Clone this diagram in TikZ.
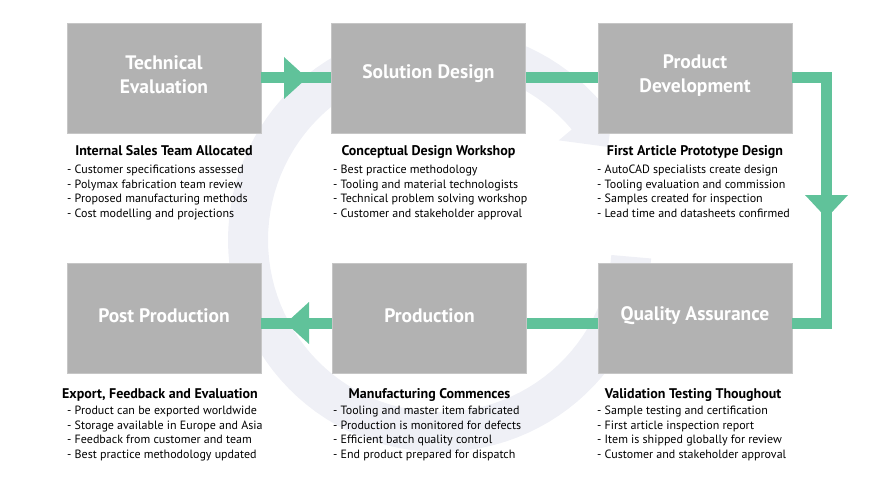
\documentclass[tikz,border=0pt]{standalone}
\usepackage{fontspec}
\setmainfont{PT Sans}
\definecolor{boxgray}{HTML}{B2B2B2}
\definecolor{boxedge}{HTML}{C6C6C6}
\definecolor{flow}{HTML}{60C29A}
\definecolor{ringc}{HTML}{EFF0F6}
\begin{document}
\begin{tikzpicture}[x=1pt,y=-1pt,
  stage/.style={draw=boxedge, line width=0.7pt, fill=boxgray, minimum width=194pt, minimum height=110pt, inner sep=0pt},
  title/.style={text=white, font=\bfseries\fontsize{19.5}{24}\selectfont, align=center, inner sep=0pt},
  head/.style={font=\bfseries\fontsize{14}{16}\selectfont, anchor=base, inner sep=0pt},
  bul/.style={font=\fontsize{12}{14}\selectfont, anchor=base west, inner sep=0pt},
  conn/.style={draw=flow, line width=11pt},
  tipf/.style={fill=flow}]
\useasboundingbox (0,0) rectangle (874,489);
% background circular arrow
\fill[ringc] plot[domain=5:320,samples=100] ({440+212*cos(\x)},{240+212*sin(\x)})
  -- ({440+229*cos(320)},{240+229*sin(320)})
  -- ({440+192*cos(331)},{240+192*sin(331)})
  -- ({440+155*cos(320)},{240+155*sin(320)})
  -- plot[domain=320:5,samples=100] ({440+172*cos(\x)},{240+172*sin(\x)}) -- cycle;
% boxes
\node[stage] (te) at (164,78) {};
\node[stage] (sd) at (428.5,78) {};
\node[stage] (pd) at (695,78) {};
\node[stage] (pp) at (164,318) {};
\node[stage] (pr) at (429.5,318) {};
\node[stage] (qa) at (695,318) {};
% connectors
\draw[conn] (te.east) -- (sd.west);
\fill[tipf] (284,57) -- (307,78) -- (284,99) -- cycle;
\draw[conn] (sd.east) -- (pd.west);
\draw[conn] (pd.east) -- ++(34,0) |- ([yshift=-5pt]qa.east);
\fill[tipf] (805,195) -- (848,195) -- (826.5,218) -- cycle;
\draw[conn] ([yshift=-5pt]qa.west) -- ([yshift=-5pt]pr.east);
\draw[conn] ([yshift=-5pt]pr.west) -- ([yshift=-5pt]pp.east);
\fill[tipf] (309,302) -- (286,323) -- (309,344) -- cycle;
% titles
\node[title] (te-t) at (164,75) {Technical\\Evaluation};
\node[title] (sd-t) at (428.5,74) {Solution Design};
\node[title] (pd-t) at (695,76) {Product\\Development};
\node[title] (pp-t) at (164,316) {Post Production};
\node[title] (pr-t) at (429.5,316) {Production};
\node[title] (qa-t) at (695,316) {Quality Assurance};
% headings
\node[head] (te-h) at (164,156) {Internal Sales Team Allocated};
\node[head] (sd-h) at (428.5,156) {Conceptual Design Workshop};
\node[head] (pd-h) at (695,156) {First Article Prototype Design};
\node[head] (pp-h) at (160,398) {Export, Feedback and Evaluation};
\node[head] (pr-h) at (429.5,398) {Manufacturing Commences};
\node[head] (qa-h) at (693,398) {Validation Testing Thoughout};
% bullets
\foreach \t [count=\i from 0] in {- Customer specifications assessed,- Polymax fabrication team review,- Proposed manufacturing methods,- Cost modelling and projections}
  \node[bul] (te-b\i) at (67,{173.5+14.5*\i}) {\t};
\foreach \t [count=\i from 0] in {- Best practice methodology,- Tooling and material technologists,- Technical problem solving workshop,- Customer and stakeholder approval}
  \node[bul] (sd-b\i) at (333,{173.5+14.5*\i}) {\t};
\foreach \t [count=\i from 0] in {- AutoCAD specialists create design,- Tooling evaluation and commission,- Samples created for inspection,- Lead time and datasheets confirmed}
  \node[bul] (pd-b\i) at (597,{173.5+14.5*\i}) {\t};
\foreach \t [count=\i from 0] in {- Product can be exported worldwide,- Storage available in Europe and Asia,- Feedback from customer and team,- Best practice methodology updated}
  \node[bul] (pp-b\i) at (67,{414.5+14.5*\i}) {\t};
\foreach \t [count=\i from 0] in {- Tooling and master item fabricated,- Production is monitored for defects,- Efficient batch quality control,- End product prepared for dispatch}
  \node[bul] (pr-b\i) at (333,{414.5+14.5*\i}) {\t};
\foreach \t [count=\i from 0] in {- Sample testing and certification,- First article inspection report,- Item is shipped globally for review,- Customer and stakeholder approval}
  \node[bul] (qa-b\i) at (597,{414.5+14.5*\i}) {\t};
\end{tikzpicture}
\end{document}
